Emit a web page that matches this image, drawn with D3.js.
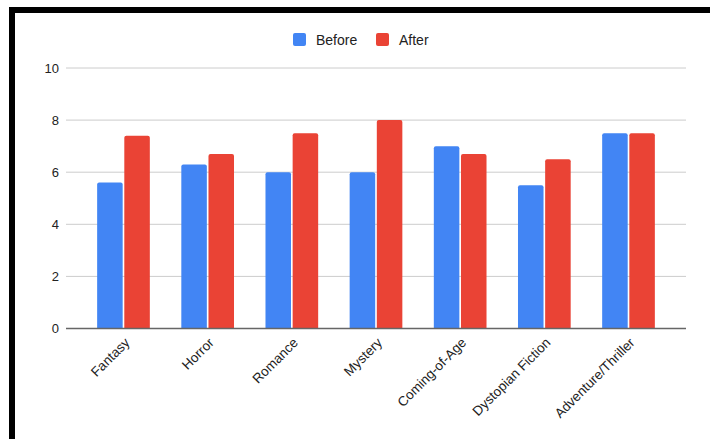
<!DOCTYPE html>
<html><head><meta charset="utf-8">
<script src="https://cdn.jsdelivr.net/npm/d3@7"></script>
<style>body{margin:0;background:#fff;}svg{display:block;font-family:Arial,"Liberation Sans",sans-serif;}</style>
</head><body>
<svg id="c" width="710" height="439"></svg>
<script>
const categories = ["Fantasy","Horror","Romance","Mystery","Coming-of-Age","Dystopian Fiction","Adventure/Thriller"];
const seriesNames = ["Before","After"];
const beforeValues = [5.6,6.3,6.0,6.0,7.0,5.5,7.5];
const afterValues = [7.4,6.7,7.5,8.0,6.7,6.5,7.5];
const yTicks = [0,2,4,6,8,10];
const colors = ["#4285F4","#EA4335"];

const svg = d3.select("#c");
// frame border
svg.append("rect").attr("x",12).attr("y",10).attr("width",710).attr("height",460)
  .attr("fill","none").attr("stroke","#000").attr("stroke-width",6);

const L=66, R=686, T=68, B=328.5;
const x = d3.scaleBand().domain(categories).range([L,R]).paddingInner(0.374).paddingOuter(0.37);
const xs = d3.scaleBand().domain(seriesNames).range([0,x.bandwidth()]).paddingInner(0.06);
const y = d3.scaleLinear().domain([0,10]).range([B,T]);

// gridlines
svg.append("g").selectAll("line").data(yTicks.filter(d=>d>0)).join("line")
  .attr("x1",L).attr("x2",R).attr("y1",d=>y(d)).attr("y2",d=>y(d))
  .attr("stroke","#cccccc").attr("stroke-width",1);

// y labels
const yAxis = d3.axisLeft(y).tickValues(yTicks).tickSize(0).tickPadding(7);
const gy = svg.append("g").attr("transform",`translate(${L},0)`).call(yAxis);
gy.select(".domain").remove();
gy.selectAll("text").attr("font-size",13).attr("fill","#222").attr("font-family","Arial,'Liberation Sans',sans-serif");

// bars
const data = categories.map((c,i)=>({c, vals:[beforeValues[i],afterValues[i]]}));
const g = svg.append("g");
function topRounded(x0,y0,w,h,r){
  return `M${x0},${y0+h}V${y0+r}Q${x0},${y0} ${x0+r},${y0}H${x0+w-r}Q${x0+w},${y0} ${x0+w},${y0+r}V${y0+h}Z`;
}
data.forEach(d=>{
  d.vals.forEach((v,j)=>{
    const bx = x(d.c)+xs(seriesNames[j]);
    const by = y(v);
    g.append("path").attr("d",topRounded(bx,by,xs.bandwidth(),B-by,2)).attr("fill",colors[j]);
  });
});

// baseline
svg.append("line").attr("x1",L).attr("x2",R).attr("y1",y(0)).attr("y2",y(0))
  .attr("stroke","#666").attr("stroke-width",1.5);

// x labels
const xAxis = d3.axisBottom(x).tickSize(0).tickPadding(0);
const gx = svg.append("g").attr("transform",`translate(0,${B})`).call(xAxis);
gx.select(".domain").remove();
gx.selectAll("text")
  .attr("font-size",13.5).attr("fill","#222").attr("font-family","Arial,'Liberation Sans',sans-serif")
  .attr("text-anchor","end").attr("dy",null).attr("y",null)
  .attr("transform","translate(7,15) rotate(-45)");

// legend
const legend = svg.append("g");
const lx = [293, 376];
seriesNames.forEach((s,i)=>{
  legend.append("rect").attr("x",lx[i]).attr("y",33).attr("width",13).attr("height",13).attr("rx",2).attr("fill",colors[i]);
  legend.append("text").attr("x",lx[i]+23).attr("y",45).attr("font-size",14).attr("fill","#222").text(s);
});
</script>
</body></html>
